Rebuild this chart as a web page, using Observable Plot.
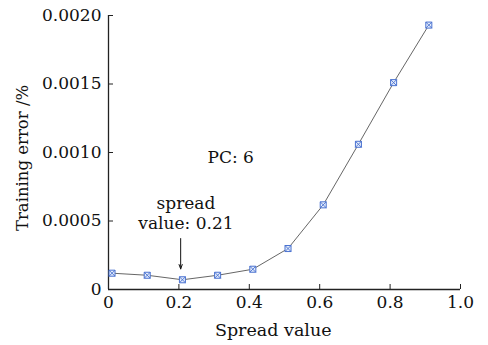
<!DOCTYPE html>
<html>
<head>
<meta charset="utf-8">
<script src="https://cdn.jsdelivr.net/npm/d3@7"></script>
<script src="https://cdn.jsdelivr.net/npm/@observablehq/plot@0.6"></script>
<style>
  html, body { margin: 0; padding: 0; background: #fff; }
  svg { display: block; }
</style>
</head>
<body>
<div id="chart"></div>
<script>
const spread = [0.01, 0.11, 0.21, 0.31, 0.41, 0.51, 0.61, 0.71, 0.81, 0.91];
const trainingError = [0.000119, 0.000104, 0.000071, 0.000104, 0.000148, 0.000299, 0.000618, 0.00106, 0.00151, 0.00193];
const xTicks = [0, 0.2, 0.4, 0.6, 0.8, 1.0];
const xTickLabels = ["0", "0.2", "0.4", "0.6", "0.8", "1.0"];
const yTicks = [0, 0.0005, 0.0010, 0.0015, 0.0020];
const yTickLabels = ["0", "0.0005", "0.0010", "0.0015", "0.0020"];
const annotationLines = ["spread", "value: 0.21"];
const annotationX = [0.22, 0.22];
const annotationY = [0.000627, 0.000481];
const arrowX = 0.205;
const arrowFrom = 0.000372;
const arrowTo = 0.000150;
const pcLabel = "PC: 6";
const pcX = 0.347;
const pcY = 0.000964;

const data = spread.map((x, i) => ({x, y: trainingError[i]}));
const font = "'DejaVu Serif', 'Liberation Serif', serif";
const blue = "#4a72d0";

const chart = Plot.plot({
  width: 488,
  height: 345,
  marginLeft: 108,
  marginRight: 28,
  marginTop: 15,
  marginBottom: 56,
  style: {fontFamily: font, fontSize: "17px", color: "#111", background: "#fff"},
  x: {domain: [0, 1], label: null},
  y: {domain: [0, 0.002], label: null},
  marks: [
    Plot.ruleY([0], {stroke: "#222", strokeWidth: 1.3}),
    Plot.ruleX([0], {stroke: "#222", strokeWidth: 1.3}),
    Plot.axisX(xTicks, {tickSize: -5, tickPadding: 11, tickFormat: (d, i) => xTickLabels[i], fontSize: 17, stroke: "#222", fill: "#111"}),
    Plot.axisY(yTicks, {tickSize: -5, tickPadding: 12, tickFormat: (d, i) => yTickLabels[i], fontSize: 17, stroke: "#222", fill: "#111"}),
    Plot.line(data, {x: "x", y: "y", stroke: "#555", strokeWidth: 0.9}),
    Plot.dot(data, {x: "x", y: "y", symbol: "square", r: 3.4, stroke: blue, fill: "#e4ecfb", strokeWidth: 1}),
    Plot.dot(data, {x: "x", y: "y", symbol: "times", r: 3.0, stroke: blue, strokeWidth: 0.9}),
    Plot.arrow([0], {x1: arrowX, x2: arrowX, y1: arrowFrom, y2: arrowTo, stroke: "#111", strokeWidth: 1, headLength: 7, headAngle: 40}),
    Plot.text(annotationLines, {x: (d, i) => annotationX[i], y: (d, i) => annotationY[i], text: d => d, fontSize: 17, fill: "#111"}),
    Plot.text([pcLabel], {x: pcX, y: pcY, text: d => d, fontSize: 17, fill: "#111"}),
    Plot.text(["Spread value"], {x: 0.468, y: 0, dy: 41, text: d => d, fontSize: 17.5, fill: "#111"}),
    Plot.text(["Training error /%"], {x: 0, y: 0.00096, dx: -86, text: d => d, rotate: -90, fontSize: 16.5, fill: "#111"})
  ]
});
document.getElementById("chart").appendChild(chart);
</script>
</body>
</html>
